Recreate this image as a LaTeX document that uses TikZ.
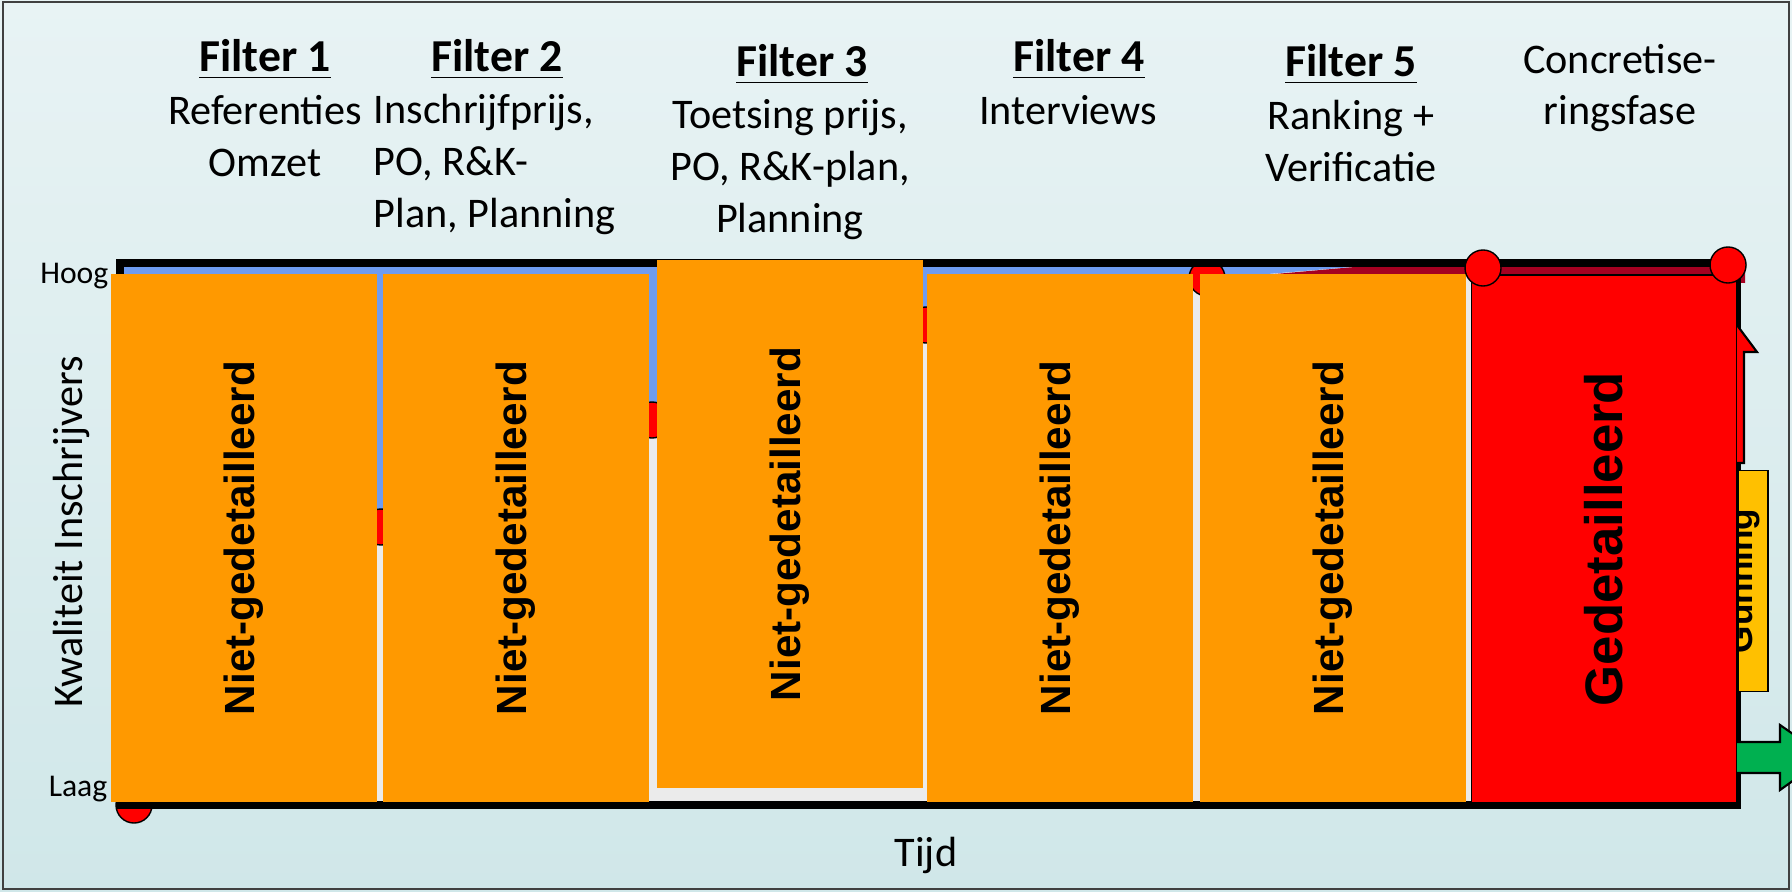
\documentclass[tikz,border=0pt]{standalone}
\usepackage{fontspec}
\setmainfont{Carlito}
\newfontfamily\arialfont{Liberation Sans}
\usetikzlibrary{shapes.geometric, arrows}
\definecolor{bgtop}{HTML}{E8F3F4}
\definecolor{bgbot}{HTML}{D0E7E9}
\definecolor{plotgray}{HTML}{EBEBEB}
\definecolor{lineblue}{HTML}{6F9CF0}
\definecolor{maroon}{HTML}{A50021}
\definecolor{boxorange}{HTML}{FF9900}
\definecolor{gunyellow}{HTML}{FFC000}
\definecolor{arrowgreen}{HTML}{00B050}
\tikzstyle{filterbox} = [rectangle, rotate=90, minimum width=5.28cm, minimum height=2.65cm, inner sep=0cm, fill=boxorange, font=\arialfont\bfseries\fontsize{12}{14}\selectfont]
\tikzstyle{detailbox} = [filterbox, fill=red, draw=black, thin, font=\arialfont\bfseries\fontsize{15}{18}\selectfont]
\tikzstyle{dot} = [circle, minimum size=0.36cm, inner sep=0cm, fill=red, draw=black, thin]
\tikzstyle{filtertitle} = [anchor=base, inner sep=0cm, font=\bfseries\fontsize{13}{15}\selectfont]
\tikzstyle{subtext} = [anchor=base, inner sep=0cm, align=center, font=\fontsize{12}{14.7}\selectfont]
\tikzstyle{axislabel} = [inner sep=0cm, font=\fontsize{12}{14}\selectfont]
\tikzstyle{levellabel} = [anchor=base east, inner sep=0cm, font=\fontsize{9}{11}\selectfont]
\tikzstyle{curve} = [maroon, line width=1.2pt]

\begin{document}
\begin{tikzpicture}[x=0.01cm, y=-0.01cm]
        \useasboundingbox (0,0) rectangle (1792,891);
        \clip (0,0) rectangle (1792,891);
        % background
        \shade[top color=bgtop, bottom color=bgbot] (0,0) rectangle (1792,891);
        \draw[black!75, line width=0.6pt] (3,2) rectangle (1789,889);

        % plot area
        \fill[plotgray] (120,263) rectangle (1737,805);
        \fill[lineblue] (120,263) -- (1400,263) -- (1207,279) -- (926,325) -- (652,420) -- (381,527) -- (134,805) -- (120,805) -- cycle;
        \fill[maroon] (1207,280) -- (1400,263) -- (1745,263) -- (1745,283) -- (1483,276) -- cycle;

        \node (c0) [dot] at (134,805) {};
        \node (c1) [dot] at (381,527) {};
        \node (c2) [dot] at (652,420) {};
        \node (c3) [dot] at (926,325) {};
        \node (c4) [dot] at (1207,278) {};
        \draw[curve] (c0) -- (c1) -- (c2) -- (c3) -- (c4);

        \draw[black, line width=2pt] (120,263) rectangle (1737,805);

        % right side: arrow, gunning, green arrow
        \filldraw[fill=red, draw=black, line width=0.6pt] (1716,297) -- (1757,352) -- (1744,352) -- (1744,463) -- (1716,463) -- cycle;
        \node (gun) [rectangle, minimum width=0.3cm, minimum height=2.21cm, inner sep=0cm, fill=gunyellow, draw=black, thin] at (1753,581) {};
        \node (gunlabel) [rotate=90, anchor=base, inner sep=0cm, font=\arialfont\bfseries\fontsize{10}{12}\selectfont] at (1752,581) {Gunning};
        \filldraw[fill=arrowgreen, draw=black, line width=0.6pt] (1710,742) -- (1780,742) -- (1780,725) -- (1826,757) -- (1780,790) -- (1780,773) -- (1710,773) -- cycle;

        % filters
        \node (f1) [filterbox] at (244,538) {Niet-gedetailleerd};
        \node (f2) [filterbox] at (516,538) {Niet-gedetailleerd};
        \node (f3) [filterbox] at (790,524) {Niet-gedetailleerd};
        \node (f4) [filterbox] at (1060,538) {Niet-gedetailleerd};
        \node (f5) [filterbox] at (1333,538) {Niet-gedetailleerd};
        \node (gd) [detailbox] at (1604,539) {Gedetailleerd};
        \node (c5) [dot] at (1483,268) {};
        \node (c6) [dot] at (1728,265) {};

        % headers (base = last line)
        \node (t1) [filtertitle] at (265,72) {\underline{Filter 1}};
        \node (d1) [subtext] at (265,176) {Referenties\\Omzet};
        \node (t2) [filtertitle] at (497,72) {\underline{Filter 2}};
        \node (d2) [subtext, anchor=base west, align=left] at (373,227) {Inschrijfprijs,\\PO, R\&K-\\Plan, Planning};
        \node (t3) [filtertitle] at (802,77) {\underline{Filter 3}};
        \node (d3) [subtext] at (790,232) {Toetsing prijs,\\PO, R\&K-plan,\\Planning};
        \node (t4) [filtertitle] at (1079,72) {\underline{Filter 4}};
        \node (d4) [subtext] at (1068,124) {Interviews};
        \node (t5) [filtertitle] at (1351,77) {\underline{Filter 5}};
        \node (d5) [subtext] at (1351,181) {Ranking +\\Verificatie};
        \node (cf) [subtext] at (1620,125) {Concretise-\\ringsfase};

        % axes
        \node (hoog) [levellabel] at (109,283) {Hoog};
        \node (laag) [levellabel] at (108,796) {Laag};
        \node (yas) [axislabel, rotate=90, anchor=base] at (82,532) {Kwaliteit Inschrijvers};
        \node (xas) [axislabel] at (926,855) {Tijd};
    \end{tikzpicture}
\end{document}
